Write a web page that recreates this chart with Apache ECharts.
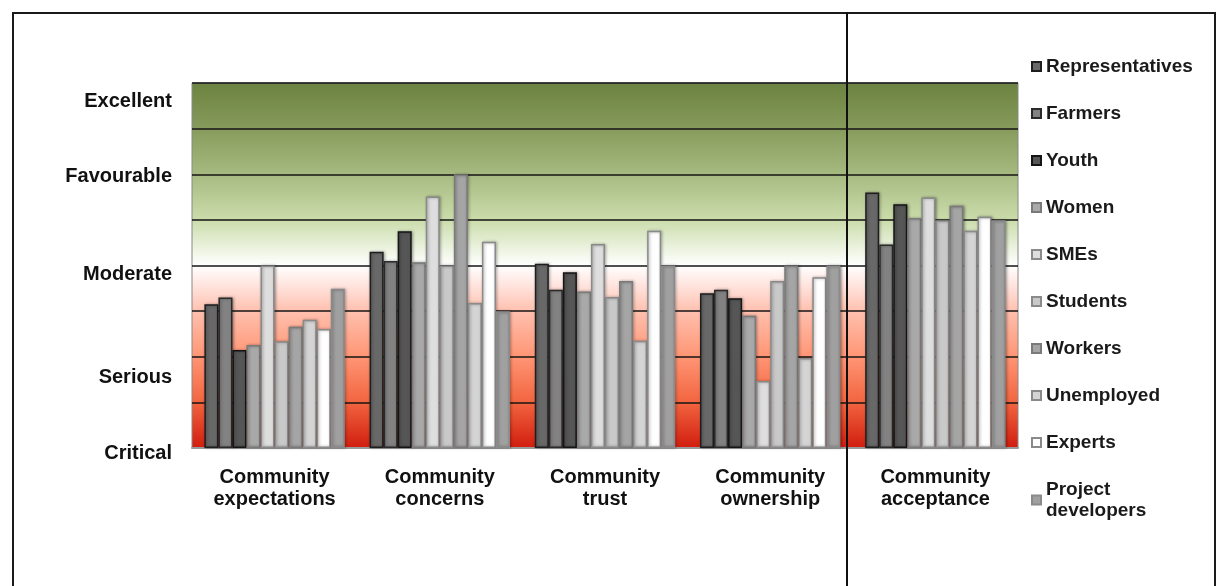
<!DOCTYPE html>
<html>
<head>
<meta charset="utf-8">
<script src="https://cdn.jsdelivr.net/npm/echarts@6/dist/echarts.min.js"></script>
<style>
html,body{margin:0;padding:0;background:#fff;}
#chart{width:1219px;height:586px;}
</style>
</head>
<body>
<div id="chart"></div>
<script>
// ---- data ----
const categories = ['Community\nexpectations', 'Community\nconcerns', 'Community\ntrust', 'Community\nownership', 'Community\nacceptance'];
const seriesNames = ['Representatives', 'Farmers', 'Youth', 'Women', 'SMEs', 'Students', 'Workers', 'Unemployed', 'Experts', 'Project developers'];
const representatives = [3.15, 4.30, 4.04, 3.39, 5.60];
const farmers         = [3.30, 4.10, 3.47, 3.47, 4.46];
const youth           = [2.15, 4.75, 3.85, 3.28, 5.34];
const women           = [2.26, 4.07, 3.43, 2.90, 5.04];
const smes            = [4.00, 5.51, 4.47, 1.47, 5.49];
const students        = [2.34, 4.00, 3.31, 3.66, 4.99];
const workers         = [2.66, 6.00, 3.66, 4.00, 5.31];
const unemployed      = [2.81, 3.18, 2.35, 1.97, 4.76];
const experts         = [2.61, 4.52, 4.76, 3.74, 5.07];
const projectDevs     = [3.49, 3.00, 4.00, 4.00, 4.99];
const levelNames      = ['Critical', 'Serious', 'Moderate', 'Favourable', 'Excellent'];
const levelPositions  = [0, 1.55, 3.8, 5.95, 7.6];

const seriesValues = [representatives, farmers, youth, women, smes, students, workers, unemployed, experts, projectDevs];
const fills   = ['#686868', '#828282', '#565656', '#a9a9a9', '#dedede', '#c9c9c9', '#a5a5a5', '#d4d4d4', '#ffffff', '#a0a0a0'];
const borders = ['#1e1e1e', '#2a2a2a', '#151515', '#7a7a7a', '#8a8a8a', '#8a8a8a', '#7a7a7a', '#8a8a8a', '#8a8a8a', '#8a8a8a'];

const chart = echarts.init(document.getElementById('chart'), null, {renderer: 'canvas'});

const bg = new echarts.graphic.LinearGradient(0, 0, 0, 1, [
  {offset: 0, color: '#6c8240'},
  {offset: 0.125, color: '#869b5b'},
  {offset: 0.25, color: '#a6ba80'},
  {offset: 0.375, color: '#cbdcab'},
  {offset: 0.45, color: '#eaf2dd'},
  {offset: 0.5, color: '#ffffff'},
  {offset: 0.57, color: '#ffdcd4'},
  {offset: 0.625, color: '#ffc0ae'},
  {offset: 0.75, color: '#ff9574'},
  {offset: 0.875, color: '#f2643f'},
  {offset: 1, color: '#d01c0e'}
]);

const font = '"Liberation Sans", Arial, sans-serif';

const option = {
  backgroundColor: '#ffffff',
  animation: false,
  grid: {
    left: 192, right: 201, top: 83, bottom: 138,
    show: true, backgroundColor: bg, borderColor: '#888', borderWidth: 1
  },
  legend: {
    orient: 'vertical',
    left: 1031, top: 56, padding: 0,
    itemWidth: 9, itemHeight: 9, itemGap: 26,
    icon: 'rect',
    data: seriesNames,
    formatter: function (name) { return name.replace('Project developers', 'Project\ndevelopers'); },
    textStyle: {fontFamily: font, fontWeight: 'bold', fontSize: 19, color: '#1a1a1a', lineHeight: 21}
  },
  xAxis: {
    type: 'category',
    data: categories,
    axisLine: {show: true, lineStyle: {color: '#9a9a9a', width: 2}},
    axisTick: {show: false},
    splitLine: {show: false},
    axisLabel: {
      margin: 18, interval: 0,
      fontFamily: font, fontWeight: 'bold', fontSize: 20, lineHeight: 22, color: '#111'
    }
  },
  yAxis: [
    {
      type: 'value', min: 0, max: 8, interval: 1,
      axisLine: {show: false}, axisTick: {show: false},
      axisLabel: {show: false},
      splitLine: {show: true, lineStyle: {color: '#141414', width: 1.5}}
    },
    {
      type: 'value', min: 0, max: 8, position: 'left',
      axisLine: {show: false}, axisTick: {show: false},
      splitLine: {show: false},
      axisLabel: {
        customValues: levelPositions,
        margin: 20,
        fontFamily: font, fontWeight: 'bold', fontSize: 20, color: '#111',
        formatter: function (v) {
          let best = 0;
          for (let i = 0; i < levelPositions.length; i++) {
            if (Math.abs(levelPositions[i] - v) < Math.abs(levelPositions[best] - v)) best = i;
          }
          return best === 0 ? '{low|' + levelNames[best] + '}' : levelNames[best];
        },
        rich: {
          low: {fontFamily: font, fontWeight: 'bold', fontSize: 20, color: '#111', padding: [10, 0, 0, 0]}
        }
      }
    }
  ],
  series: seriesValues.map(function (vals, i) {
    return {
      name: seriesNames[i],
      type: 'bar',
      yAxisIndex: 0,
      data: vals,
      barGap: '0%',
      barCategoryGap: '15%',
      itemStyle: {
        color: fills[i], borderColor: borders[i], borderWidth: 1.5,
        shadowColor: 'rgba(0,0,0,0.35)', shadowBlur: 3, shadowOffsetX: 1, shadowOffsetY: 0
      }
    };
  }),
  graphic: [
    {type: 'rect', shape: {x: 13, y: 13, width: 1202, height: 640}, style: {fill: null, stroke: '#1a1a1a', lineWidth: 2}, z: 100},
    {type: 'line', shape: {x1: 847, y1: 12, x2: 847, y2: 586}, style: {stroke: '#111', lineWidth: 2}, z: 100}
  ]
};

chart.setOption(option);
</script>
</body>
</html>
